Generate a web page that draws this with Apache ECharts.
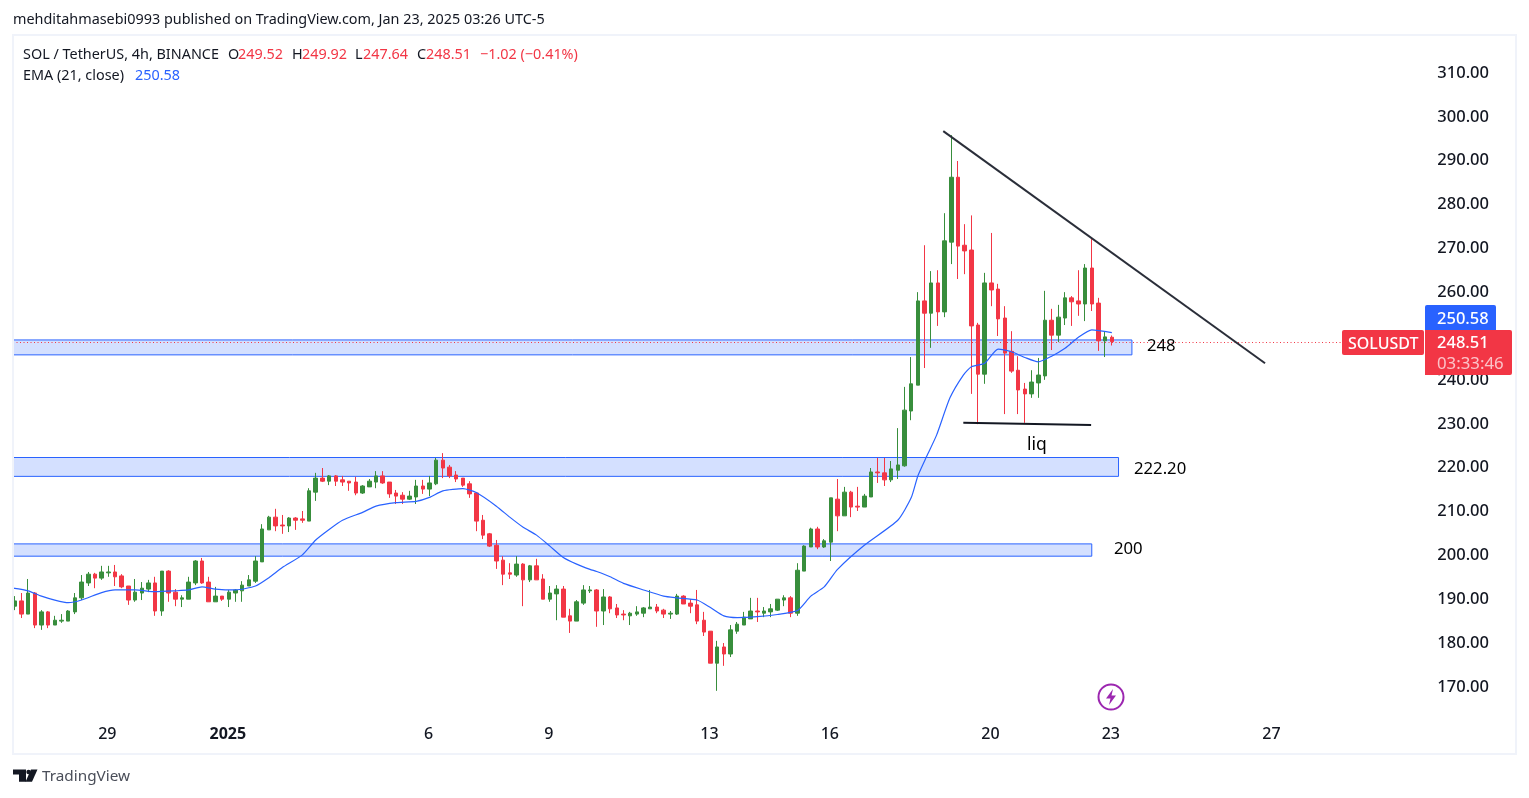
<!DOCTYPE html>
<html>
<head>
<meta charset="utf-8">
<style>html,body{margin:0;padding:0;background:#fff}#c{width:1529px;height:798px}</style>
<script src="https://cdn.jsdelivr.net/npm/echarts@6/dist/echarts.min.js"></script>
</head>
<body>
<div id="c"></div>
<script>
const opens=[188.2,189.4,186.4,191.2,183.9,186.9,183.9,184.8,184.8,186.9,
190.1,193.5,195.5,194.6,195.8,196,195.1,192.8,189.6,191.2,
192.1,193.5,187.1,196.2,191.4,189.8,189.8,193.5,198.5,193.7,
189.2,190.5,189.8,191.2,191.7,192.8,193.9,198.3,205.6,208.5,
206.7,206.5,208.3,208.1,207.6,214.2,217.4,216.7,217.9,217,
216.7,216.5,214,215.4,216.5,217.9,216.5,214,213.5,212.6,
213.1,215.6,214.9,216.1,221.5,219.9,218.1,217.4,216.1,214,
207.8,204.7,202.1,198.7,195.8,195.3,197.8,194.2,197.4,194.4,
189.8,191,192.1,186,184.8,188.9,191.7,191.9,187.1,190.3,
187.8,186.4,186,186.4,186.6,187.6,188,187.3,186.4,186.4,
190.5,188.9,188.5,185,182.5,175.2,178.9,177.3,182.5,183.9,
185.3,187.1,186.6,186.9,187.3,189.6,190.1,186.6,196.2,201.7,
205.8,201.7,202.8,212.6,208.8,214.2,211,210.8,213.1,218.8,
218.6,217,219.2,220.2,232.7,238.6,257.8,255,261.9,255.3,
271.2,286,270.5,269.4,252.3,241.1,261.9,260.5,253.9,246.3,
242,237.7,236.6,239.1,240.7,253.4,250,253.9,258.5,257.8,
257.1,265.3,257.3,248.7,249.52];
const closes=[189.4,186.4,191.2,183.9,186.9,183.9,185,185,187.1,190.1,
193.7,195.5,194.6,196,196,194.9,192.6,189.6,191.4,192.3,
193.5,187.1,196.2,191.2,189.8,190.1,193.7,198.5,193.5,189.2,
190.5,189.8,191.4,191.9,193,194.2,198.5,205.8,208.5,206.5,
206.5,208.3,207.8,207.8,214.5,217.4,216.7,217.9,216.7,216.5,
216.3,214,215.6,216.7,217.9,216.3,213.8,213.3,212.6,213.3,
215.6,214.9,216.3,221.5,219.7,217.9,217.2,215.8,213.8,207.6,
204.4,201.9,198.5,195.5,195.5,197.8,194.2,197.4,194.2,189.8,
191.2,192.1,185.7,184.8,189.2,191.9,191.9,187.1,190.3,187.6,
186.2,186.2,186.6,186.9,187.8,188,187.1,186.4,186.6,190.5,
188.7,188.2,184.8,182.3,175.2,178.9,177.3,182.8,184.1,185.7,
187.1,186.9,187.1,187.6,189.8,190.1,186.6,196.4,201.9,205.8,
201.7,203.1,212.9,208.8,214.2,210.8,210.8,213.3,218.8,218.6,
217,219.5,220.4,232.9,238.9,257.8,255,261.9,255.3,271.5,
286,270.3,269.2,252.1,241.1,261.9,260.3,253.7,245.9,241.8,
237.5,236.6,239.3,240.9,253.4,250,254.1,258.5,257.6,257.1,
265.3,257.1,248.7,249.6,248.51];
const lows=[187.3,185.5,186.4,183.2,182.8,183.2,183.9,184.4,184.8,186.4,
189.6,192.8,192.3,194.2,194.9,192.8,192.3,188.5,189.2,189.6,
191.4,186,186,189.2,188.2,188,189.8,193,193.3,189.2,
189.2,189.4,188,189.2,189.2,192.8,193.5,198.3,205.6,205.3,
204.7,205.1,205.6,207.2,207.6,212.2,216.5,215.8,215.6,215.6,
214.5,213.5,213.8,215.4,215.1,216.1,212.9,211.5,211.5,212.4,
211.5,213.8,213.3,215.8,217.4,217.4,216.5,215.4,212.9,205.3,
203.5,201.7,196.7,193,194.4,194.9,188.2,193.7,194.2,189.8,
189.2,185,185.7,182.1,184.8,188.5,191.2,183.5,183.9,186.6,
185.5,185,183.9,186,185.7,187.6,186.6,185.5,185.3,186.2,
188.7,186.6,184.1,181.4,175.2,168.9,174.6,176.6,181.9,183.9,
185.3,184.6,185.7,185.7,187.1,188.2,185.7,186,196.2,201.7,
201.2,201.5,198.5,205.3,208.8,208.5,209.9,210.8,213.1,216.3,
215.6,216.5,217.2,220,230.6,238.6,242.5,247.1,252.1,254.1,
266.2,262.8,263.9,236.6,229.7,238.9,256.6,249.8,232,241.4,
232,230,235.7,235.7,239.8,246.6,248.4,252.3,252.1,254.4,
253.2,255.5,246.4,245,247.64];
const highs=[190.5,191.2,194.4,191.4,187.3,187.1,186,186.4,187.3,191.2,
195.3,196,195.8,197.4,197.4,197.6,195.5,192.8,194.4,193.7,
194.2,194.9,196.2,196.4,192.1,190.7,194.9,198.7,199.2,194.9,
192.6,190.5,191.9,192.1,193.9,195.3,199.6,206.9,208.8,210.4,
209,208.5,208.5,209.9,215.1,218.6,219.7,218.1,218.1,217.9,
216.7,217.7,215.8,217.2,219,219,216.5,214.7,214.2,214.5,
217,217,217.9,222,223.1,220.4,219,217.4,216.7,214.2,
209,204.9,203.3,199.6,198,199.6,198,197.6,199,195.5,
192.8,193,192.8,187.6,189.6,193,192.8,192.1,192.1,190.5,
188.7,187.3,186.9,188.2,188,191.9,188.7,187.6,187.1,191,
190.7,189.8,191.9,186.9,182.5,180.3,179.8,183.9,184.6,186.9,
190.1,190.1,188,188.7,189.8,190.7,190.5,198,202.1,206.1,
206.3,203.5,212.9,217.2,215.4,214.5,215.4,213.8,219.7,222,
222,221.3,228.8,238.2,245,259.8,270.5,264.6,264.8,277.8,
295.6,289.7,275.3,277.3,252.8,264.2,273.3,261.7,256.6,250.9,
245.2,239.1,242,244.8,260.1,256,256.9,259.8,258.9,264.8,
266.2,271.9,258.5,250.7,249.92];

const emaBars=[-0.25,2,4,6,8,10,13,15,18,21,24,26,28,30,33,36,38,40,43,45,47,49,52,54,57,60,62,64,67,69,72,74,76,78,80,82,84,86,87,89,91,94,97,99,102,104,106,108,111,114,117,119,121,123,127,132,134,135,136.3,137.8,139.8,141.8,143,145,147,149,151,153,155,157,159,161,164];
const emaValues=[192.3,191.7,190.5,189.6,189,189.6,191.3,191.9,191.9,191.5,191.7,191.9,192.6,192.1,191.9,192.8,194.7,197,199.9,203.3,205.7,207.8,209.6,211,211.8,212.1,213,214.5,215,214.1,211,208.5,206.2,204.4,201.9,199.3,197.8,196.6,196.1,194.9,193.4,191.9,190.5,190.1,189.6,187.9,186,185.6,185.8,186.3,187.2,190.5,192.6,196.6,202.1,207.8,212.9,217.9,222.3,227.2,235.7,240.9,242.8,243.6,246.8,246.2,244.9,243.9,245.2,247,249.5,251.2,250.58];

const tickBars=[14,32,62,80,104,122,146,164,188];
const tickLabels=['29','2025','6','9','13','16','20','23','27'];
const priceTicks=[170,180,190,200,210,220,230,240,250,260,270,280,290,300,310];

const bandTop=[248.9,222.1,202.4];
const bandBottom=[245.5,217.8,199.6];
const bandEndBar=[167,165,161];

const trendBars=[138.8,186.9];
const trendPrices=[296.5,243.6];
const liqBars=[141.8,160.9];
const liqPrices=[230,229.5];
const priceLineLevel=248.32;
const priceLineBars=[-0.25,198.4];

const UP='#388e3c',DOWN='#f23645',BLUE='#2962ff',INK='#131722';
const FONT='"Noto Sans",sans-serif';
const FIRST=-0.254, LAST=210.66;

const chart=echarts.init(document.getElementById('c'),null,{renderer:'canvas',width:1529,height:798});

function txt(x,y,text,fill,size,opt){
  return {type:'text',x:x,y:y,z:50,silent:true,
    style:Object.assign({text:text,fill:fill,fontFamily:FONT,fontSize:size||14.4,textBaseline:'middle',verticalAlign:'middle'},opt||{})};
}
function rect(x,y,w,h,fill,r,stroke){
  return {type:'rect',z:40,silent:true,shape:{x:x,y:y,width:w,height:h,r:r||0},style:{fill:fill,stroke:stroke||null,lineWidth:stroke?2:0}};
}

const graphic=[
  rect(13,35,1503,719,'transparent',0,'#f0f3fa'),
  txt(13,20,'mehditahmasebi0993 published on TradingView.com, Jan 23, 2025 03:26 UTC-5',INK),
  txt(23,55,'SOL / TetherUS, 4h, BINANCE',INK),
  txt(228,55,'O',INK),txt(238,55,'249.52',DOWN),
  txt(292,55,'H',INK),txt(302,55,'249.92',DOWN),
  txt(355,55,'L',INK),txt(363,55,'247.64',DOWN),
  txt(417,55,'C',INK),txt(426,55,'248.51',DOWN),
  txt(480,55,'\u22121.02 (\u22120.41%)',DOWN),
  txt(23,76,'EMA (21, close)',INK),txt(135,76,'250.58',BLUE),
  txt(1147,346,'248','#000',16.7),
  txt(1134,469,'222.20','#000',16.7),
  txt(1114,549,'200','#000',16.7),
  txt(1027,445,'liq','#000',17.5),
  rect(1425,305,71,25,BLUE,[2,2,0,0]),
  rect(1342,330,82,25,DOWN,2),
  rect(1425,330,87,45,DOWN,[0,2,2,0]),
  txt(1437,319,'250.58','#fff',16.5,{fontWeight:500}),
  txt(1348,344,'SOLUSDT','#fff',16,{fontWeight:500}),
  txt(1437,343,'248.51','#fff',16.5,{fontWeight:500}),
  txt(1437,364,'03:33:46','#fbc3c8',16.8),
  {type:'circle',z:40,silent:true,shape:{cx:1111,cy:697,r:12.5},style:{fill:'#fff',stroke:'#9c27b0',lineWidth:2}},
  {type:'polygon',z:41,silent:true,shape:{points:[[1113,689],[1106,698.5],[1110.5,698.5],[1109,705],[1116,695.5],[1111.5,695.5]]},style:{fill:'#9c27b0'}},
  {type:'polygon',z:41,silent:true,shape:{points:[[13,769.5],[26,769.5],[26,781.7],[19,781.7],[19,774.5],[13,774.5]]},style:{fill:INK}},
  {type:'circle',z:41,silent:true,shape:{cx:28.6,cy:772,r:2.3},style:{fill:INK}},
  {type:'polygon',z:41,silent:true,shape:{points:[[31,769.5],[37.5,769.5],[32,781.7],[25.5,781.7]]},style:{fill:INK}},
  txt(42,777,'TradingView','#4a4e59',15.3)
];

const candleData=opens.map((o,i)=>[i,o,closes[i],lows[i],highs[i]]);
const emaData=emaBars.map((b,i)=>[b,emaValues[i]]);

chart.setOption({
  animation:false,
  backgroundColor:'#fff',
  grid:{left:13,top:35,width:1411,height:680,containLabel:false},
  xAxis:{type:'value',min:FIRST,max:LAST,splitLine:{show:false},axisLine:{show:false},axisTick:{show:false},
    axisLabel:{customValues:tickBars,margin:11,padding:[0,2,0,0],hideOverlap:false,showMinLabel:true,showMaxLabel:true,fontFamily:FONT,fontSize:16,fontWeight:500,color:INK,
      formatter:v=>{const s=tickLabels[tickBars.indexOf(v)]||'';return s==='2025'?'{b|2025}':s;},
      rich:{b:{fontWeight:'bold',fontFamily:FONT,fontSize:16,color:INK}}}},
  yAxis:{type:'value',position:'right',scale:true,min:163.39,max:318.43,splitLine:{show:false},axisLine:{show:false},axisTick:{show:false},
    axisLabel:{customValues:priceTicks,align:'right',margin:65,fontFamily:FONT,fontSize:16.5,fontWeight:500,color:INK,
      formatter:v=>'{p|'+v.toFixed(2)+'}',
      rich:{p:{padding:[2,0,0,0],fontFamily:FONT,fontSize:16.5,fontWeight:500,color:INK}}}},
  graphic:graphic,
  series:[
    {type:'line',name:'zones',z:1,data:[],symbol:'none',silent:true,
     markArea:{silent:true,data:bandTop.map((t,i)=>[
        {coord:[FIRST,t],itemStyle:{color:'rgba(41,98,255,0.2)',borderColor:BLUE,borderWidth:1}},
        {coord:[bandEndBar[i],bandBottom[i]]}])}},
    {type:'line',name:'last',z:2,data:priceLineBars.map(b=>[b,priceLineLevel]),symbol:'none',silent:true,
     lineStyle:{color:DOWN,width:1,type:[1,2.5]}},
    {type:'candlestick',name:'SOLUSDT',z:3,data:candleData,encode:{x:0,y:[1,2,3,4]},barWidth:4,
     itemStyle:{color:UP,color0:DOWN,borderColor:UP,borderColor0:DOWN,borderColorDoji:DOWN,borderWidth:1}},
    {type:'line',name:'EMA (21, close)',z:4,data:emaData,symbol:'none',smooth:0.2,silent:true,lineStyle:{color:BLUE,width:1.2}},
    {type:'line',name:'trend',z:5,data:trendBars.map((b,i)=>[b,trendPrices[i]]),symbol:'none',silent:true,lineStyle:{color:'#2a2e39',width:2}},
    {type:'line',name:'liq',z:5,data:liqBars.map((b,i)=>[b,liqPrices[i]]),symbol:'none',silent:true,lineStyle:{color:'#131722',width:2}}
  ]
});
</script>
</body>
</html>
